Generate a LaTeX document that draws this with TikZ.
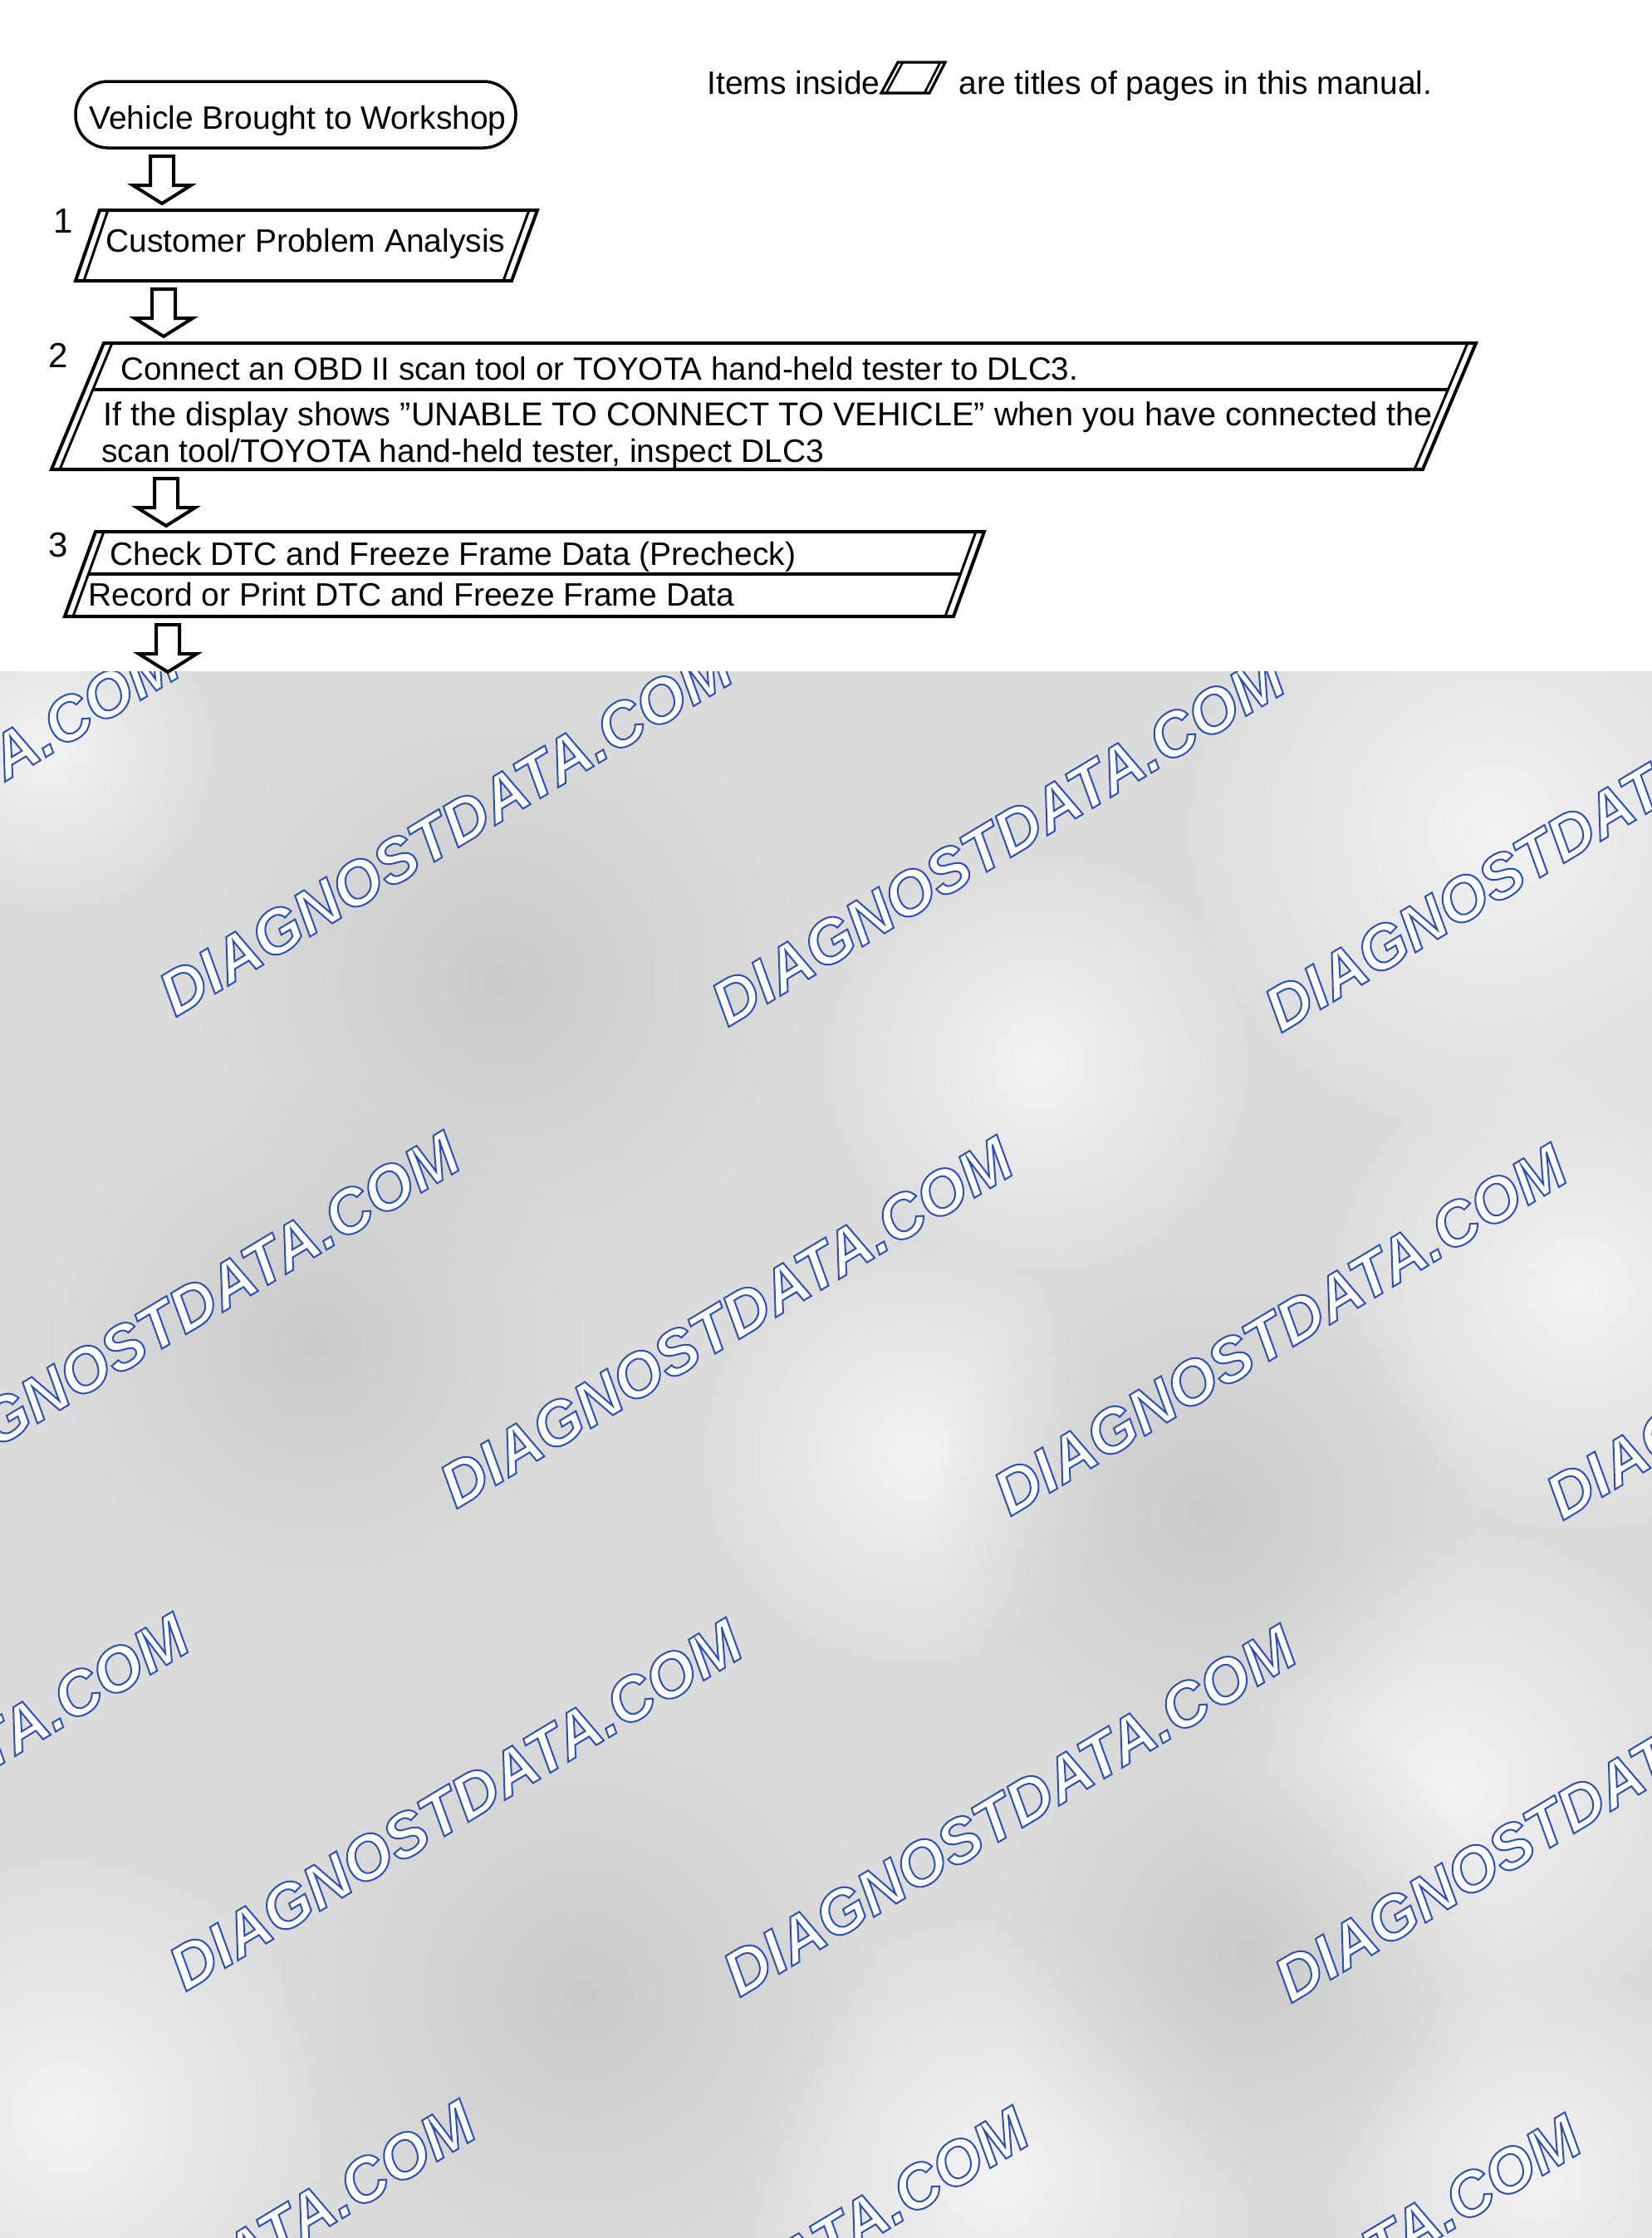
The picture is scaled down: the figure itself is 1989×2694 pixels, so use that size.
\documentclass[tikz,border=0pt]{standalone}
\usepackage{fontspec}
\setmainfont{Liberation Sans}
\usetikzlibrary{calc,fadings}
\definecolor{wmblue}{HTML}{2F4FB0}
\definecolor{bggray}{HTML}{DCDCDC}
\definecolor{darkblob}{HTML}{C4C4C4}
\tikzfading[name=blobfade, inner color=transparent!0, outer color=transparent!100]
\tikzset{
 box/.style={line width=2pt, line join=miter},
 dline/.style={line width=1.5pt},
 blk/.style={line width=2pt, line join=miter, fill=white},
 txt/.style={anchor=base west, inner sep=0pt, font=\fontsize{19.5}{22}\selectfont},
 num/.style={anchor=base west, inner sep=0pt, font=\fontsize{21}{24}\selectfont},
 wm/.style={anchor=base west, inner sep=0pt, rotate=31, text=white, font=\fontsize{37.5}{40}\selectfont\bfseries\itshape},
 lightblob/.style={fill=white, opacity=0.65, path fading=blobfade},
 darkblob/.style={fill=darkblob, opacity=0.7, path fading=blobfade},
}
\newcommand{\blkarrow}[2]{\draw[blk] ({#1-14},#2) -- ({#1-14},{#2+35}) -- ({#1-35},{#2+35}) -- (#1,{#2+57}) -- ({#1+35},{#2+35}) -- ({#1+14},{#2+35}) -- ({#1+14},#2) -- cycle;}
\newcommand{\wmtext}{\special{pdf:literal direct 2 Tr 1.0 w 0.184 0.310 0.690 RG}DIAGNOSTDATA.COM\special{pdf:literal direct 0 Tr}}
\newcommand{\wmark}[3]{\node[wm] (#1) at ({#2+17},{#3+14}) {\wmtext};}
\begin{document}
\begin{tikzpicture}[x=0.5pt,y=-0.5pt]
\useasboundingbox (0,0) rectangle (1989,2694);
\fill[white] (0,0) rectangle (1989,2694);
% ---- watermark background ----
\begin{scope}
\clip (0,808) rectangle (1989,2694);
\fill[bggray] (0,808) rectangle (1989,2694);
\fill[lightblob] (1800,1000) circle (380);
\fill[lightblob] (1250,1280) circle (260);
\fill[lightblob] (1900,1550) circle (300);
\fill[lightblob] (1100,1750) circle (260);
\fill[lightblob] (1750,2150) circle (320);
\fill[lightblob] (80,2550) circle (320);
\fill[lightblob] (1200,2620) circle (320);
\fill[lightblob] (1850,2620) circle (260);
\fill[lightblob] (60,900) circle (200);
\fill[darkblob] (600,1180) circle (360);
\fill[darkblob] (380,1620) circle (320);
\fill[darkblob] (1450,1820) circle (320);
\fill[darkblob] (700,2400) circle (360);
\fill[darkblob] (1500,2350) circle (300);
\wmark{w11}{-472}{1204}
\wmark{w12}{194}{1211}
\wmark{w13}{859}{1223}
\wmark{w14}{1525}{1230}
\wmark{w21}{-134}{1797}
\wmark{w22}{532}{1803}
\wmark{w23}{1199}{1812}
\wmark{w24}{1864}{1817}
\wmark{w31}{-460}{2377}
\wmark{w32}{206}{2384}
\wmark{w33}{873}{2391}
\wmark{w34}{1537}{2398}
\wmark{w41}{-115}{2963}
\wmark{w42}{551}{2971}
\wmark{w43}{1216}{2980}
\wmark{w44}{1882}{2989}
\end{scope}
% ---- legend ----
\node[txt] (leg1) at (851,113) {Items inside};
\draw[line width=1.6pt, line join=miter] (1081,75) -- (1138,75) -- (1119,112) -- (1061,112) -- cycle;
\draw[line width=1.3pt] (1087,75) -- (1067,112);
\draw[line width=1.3pt] (1132,75) -- (1113,112);
\node[txt] (leg2) at (1154,113) {are titles of pages in this manual.};
% ---- start ----
\draw[line width=1.75pt, rounded corners=19.5pt] (91,98) rectangle (621,178);
\node[txt] (t0) at (107,155) {Vehicle Brought to Workshop};
\blkarrow{195}{188}
% ---- box 1 ----
\node[num] (n1) at (64,280) {1};
\draw[box] (120,253) -- (647,253) -- (616,338) -- (91,338) -- cycle;
\draw[dline] (130,253) -- (101,338);
\draw[dline] (637,253) -- (606,338);
\node[txt] (t1) at (127,303) {Customer Problem Analysis};
\blkarrow{197}{348}
% ---- box 2 ----
\node[num] (n2) at (58,442) {2};
\draw[box] (125,413) -- (1777,413) -- (1713,565) -- (62,565) -- cycle;
\draw[dline] (135,413) -- (72,565);
\draw[dline] (1767,413) -- (1703,565);
\draw[box] (112,469) -- (1743,469);
\node[txt, font=\fontsize{19.3}{22}\selectfont] (t2a) at (145,457) {Connect an OBD II scan tool or TOYOTA hand-held tester to DLC3.};
\node[txt, font=\fontsize{19.85}{22}\selectfont] (t2b) at (124,512) {If the display shows ”UNABLE TO CONNECT TO VEHICLE” when you have connected the};
\node[txt] (t2c) at (122,556) {scan tool/TOYOTA hand-held tester, inspect DLC3};
\blkarrow{200}{576}
% ---- box 3 ----
\node[num] (n3) at (58,670) {3};
\draw[box] (115,640) -- (1185,640) -- (1148,742) -- (78,742) -- cycle;
\draw[dline] (125,640) -- (88,742);
\draw[dline] (1175,640) -- (1138,742);
\draw[box] (106.5,691) -- (1156.5,691);
\node[txt] (t3a) at (132,680) {Check DTC and Freeze Frame Data (Precheck)};
\node[txt] (t3b) at (106,729) {Record or Print DTC and Freeze Frame Data};
\blkarrow{202}{752}
\end{tikzpicture}
\end{document}
